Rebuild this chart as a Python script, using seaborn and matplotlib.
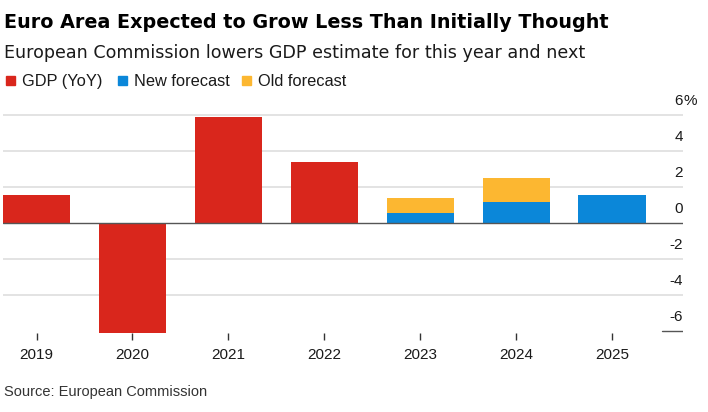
import matplotlib
matplotlib.use('Agg')
import matplotlib.pyplot as plt
import matplotlib.patches as mpatches
import seaborn as sns
import pandas as pd

# data (percent, YoY)
years = ['2019', '2020', '2021', '2022', '2023', '2024', '2025']
gdp = [1.6, -6.1, 5.9, 3.4, 0, 0, 0]
new_forecast = [0, 0, 0, 0, 0.6, 1.2, 1.6]
old_forecast = [0, 0, 0, 0, 0.8, 1.3, 0]   # stacked on top of new forecast
y_ticks = [6, 4, 2, 0, -2, -4, -6]

RED = '#d9261c'
BLUE = '#0b87d9'
YELLOW = '#fcb731'
GRID = '#e1e1e1'

df = pd.DataFrame({'year': years, 'gdp': gdp, 'new': new_forecast, 'old': old_forecast})
df['stack_top'] = df['new'] + df['old']

sns.set_theme(style='white')
plt.rcParams['font.family'] = ['Liberation Sans', 'DejaVu Sans']

W, H = 708, 412
fig = plt.figure(figsize=(W / 100, H / 100), dpi=100)
ymin, ymax = -6.1, 6.2
px_per_unit = 18
zero_px = H - 223.3
bottom = zero_px + ymin * px_per_unit
height = (ymax - ymin) * px_per_unit
ax = fig.add_axes([3 / W, bottom / H, 680 / W, height / H])

# gridlines behind bars
for t in y_ticks:
    if t == 0 or t == -6:
        continue
    ax.axhline(t, color=GRID, lw=1.3, zorder=0)
ax.axhline(-6, xmin=(662 - 3) / 680, xmax=1, color='#555555', lw=1.0, zorder=0)

sns.barplot(data=df, x='year', y='gdp', order=years, color=RED, width=0.7,
            saturation=1, linewidth=0, ax=ax, zorder=2)
sns.barplot(data=df, x='year', y='stack_top', order=years, color=YELLOW, width=0.7,
            saturation=1, linewidth=0, ax=ax, zorder=2)
sns.barplot(data=df, x='year', y='new', order=years, color=BLUE, width=0.7,
            saturation=1, linewidth=0, ax=ax, zorder=3)

ax.axhline(0, color='#555555', lw=1.0, zorder=4)

ax.set_xlim(-0.35, 6.74)
ax.set_ylim(ymin, ymax)
ax.set_xlabel('')
ax.set_ylabel('')
ax.set_yticks([])
for s in ax.spines.values():
    s.set_visible(False)
ax.tick_params(axis='x', bottom=True, length=5, width=1, color='#333333',
               pad=6, labelsize=11, labelcolor='#1a1a1a')

# y labels on the right, sitting above their gridlines
for t in y_ticks:
    ax.text(1.0, t + 0.55, str(t), transform=ax.get_yaxis_transform(),
            ha='right', va='baseline', fontsize=11, color='#1a1a1a')
ax.text(1.0, 6 + 0.55, '%', transform=ax.get_yaxis_transform(),
        ha='left', va='baseline', fontsize=11, color='#1a1a1a')

# title, subtitle, legend, source
fig.text(4 / W, 1 - 28.0 / H, 'Euro Area Expected to Grow Less Than Initially Thought',
         fontsize=13.8, fontweight='bold', family=['DejaVu Sans'],
         color='#000000', va='baseline')
fig.text(4 / W, 1 - 57.5 / H, 'European Commission lowers GDP estimate for this year and next',
         fontsize=12.6, family=['DejaVu Sans'], color='#1a1a1a', va='baseline')

legend_items = [('GDP (YoY)', RED, 6), ('New forecast', BLUE, 118), ('Old forecast', YELLOW, 242)]
for label, col, x0 in legend_items:
    fig.patches.append(mpatches.Rectangle((x0 / W, 1 - 85 / H), 9 / W, 9 / H,
                                          transform=fig.transFigure, color=col))
    fig.text((x0 + 16.5) / W, 1 - 86 / H, label, fontsize=11.8, color='#1a1a1a', va='baseline')

fig.text(4 / W, 1 - 396 / H, 'Source: European Commission', fontsize=10.5,
         color='#333333', va='baseline')

fig.savefig('out.png', dpi=100)
